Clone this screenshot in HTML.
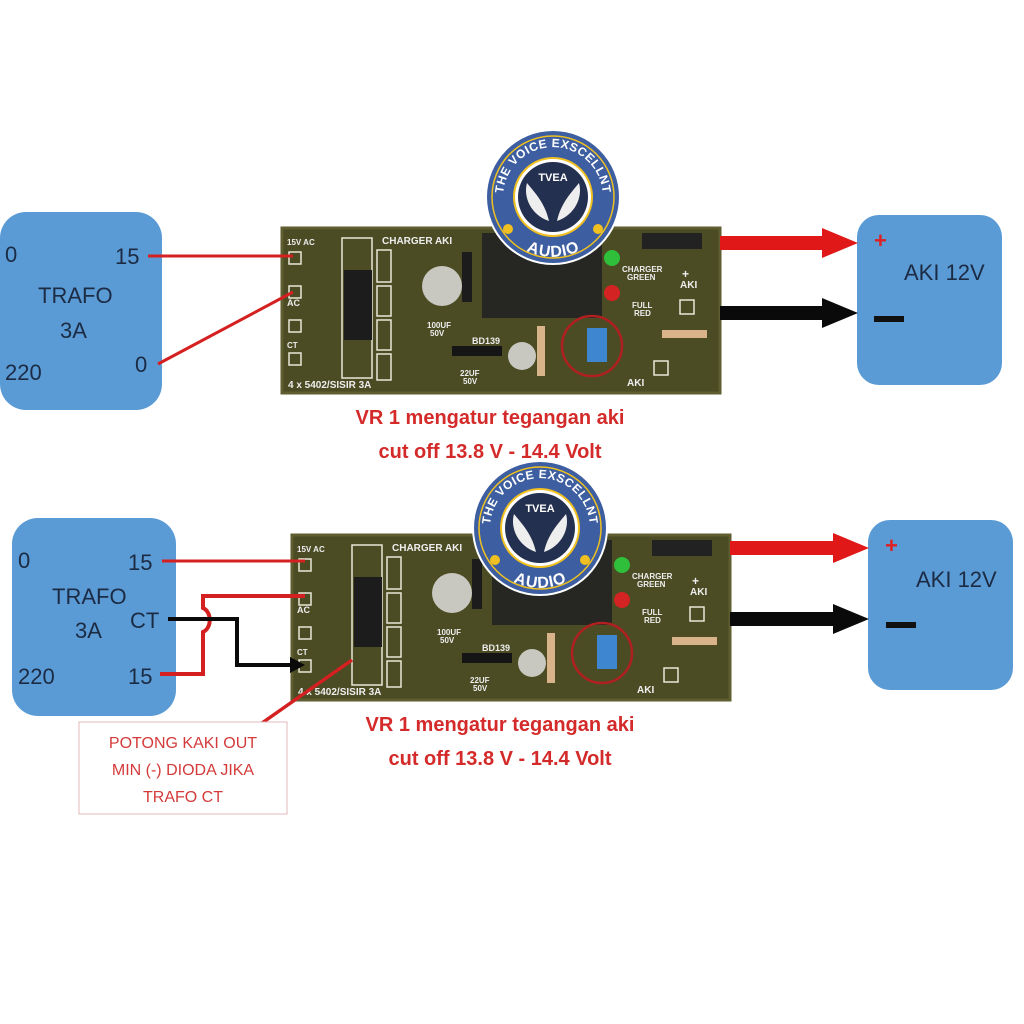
<!DOCTYPE html>
<html><head><meta charset="utf-8"><style>
html,body{margin:0;padding:0;background:#fff;}
svg{display:block;}
text{font-family:"Liberation Sans",sans-serif;}
</style></head><body>
<svg width="1024" height="1024" viewBox="0 0 1024 1024" xmlns="http://www.w3.org/2000/svg">
<defs>
<g id="pcb">
  <rect x="0" y="0" width="438" height="165" fill="#4b4b24"/>
  <rect x="0" y="0" width="438" height="165" fill="none" stroke="#5e5e30" stroke-width="3"/>
  <g fill="none" stroke="#e8e8d8" stroke-width="1.5">
    <rect x="7" y="24" width="12" height="12"/><rect x="7" y="58" width="12" height="12"/>
    <rect x="7" y="92" width="12" height="12"/><rect x="7" y="125" width="12" height="12"/>
    <rect x="60" y="10" width="30" height="140"/>
    <rect x="95" y="22" width="14" height="32"/><rect x="95" y="58" width="14" height="30"/>
    <rect x="95" y="92" width="14" height="30"/><rect x="95" y="126" width="14" height="26"/>
    <rect x="398" y="72" width="14" height="14"/><rect x="372" y="133" width="14" height="14"/>
  </g>
  <text x="5" y="17" font-size="8" fill="#eee" font-weight="bold">15V AC</text>
  <text x="100" y="16" font-size="10" fill="#eee" font-weight="bold">CHARGER AKI</text>
  <text x="5" y="78" font-size="9" fill="#eee" font-weight="bold">AC</text>
  <text x="5" y="120" font-size="8" fill="#eee" font-weight="bold">CT</text>
  <text x="6" y="160" font-size="10" fill="#eee" font-weight="bold">4 x 5402/SISIR 3A</text>
  <text x="145" y="100" font-size="8" fill="#eee" font-weight="bold">100UF</text>
  <text x="148" y="108" font-size="8" fill="#eee" font-weight="bold">50V</text>
  <text x="190" y="116" font-size="9" fill="#eee" font-weight="bold">BD139</text>
  <text x="178" y="148" font-size="8" fill="#eee" font-weight="bold">22UF</text>
  <text x="181" y="156" font-size="8" fill="#eee" font-weight="bold">50V</text>
  <text x="340" y="44" font-size="8" fill="#eee" font-weight="bold">CHARGER</text>
  <text x="345" y="52" font-size="8" fill="#eee" font-weight="bold">GREEN</text>
  <text x="350" y="80" font-size="8" fill="#eee" font-weight="bold">FULL</text>
  <text x="352" y="88" font-size="8" fill="#eee" font-weight="bold">RED</text>
  <text x="398" y="60" font-size="10" fill="#eee" font-weight="bold">AKI</text>
  <text x="400" y="50" font-size="12" fill="#eee" font-weight="bold">+</text>
  <text x="345" y="158" font-size="10" fill="#eee" font-weight="bold">AKI</text>
  <rect x="62" y="42" width="28" height="70" fill="#1c1c1c"/>
  <rect x="200" y="5" width="120" height="85" fill="#262623"/>
  <circle cx="160" cy="58" r="20" fill="#c8c8c0"/>
  <circle cx="240" cy="128" r="14" fill="#c8c8c0"/>
  <rect x="170" y="118" width="50" height="10" fill="#151515"/>
  <rect x="180" y="24" width="10" height="50" fill="#1c1c1c"/>
  <rect x="360" y="5" width="60" height="16" fill="#222"/>
  <circle cx="330" cy="30" r="8" fill="#2fbf3a"/>
  <circle cx="330" cy="65" r="8" fill="#d42323"/>
  <rect x="255" y="98" width="8" height="50" fill="#d9b48a"/>
  <rect x="380" y="102" width="45" height="8" fill="#d9b48a"/>
  <rect x="305" y="100" width="20" height="34" fill="#3f86d0"/>
  <circle cx="310" cy="118" r="30" fill="none" stroke="#b02020" stroke-width="2.5"/>
</g>
<path id="arcTop" d="M -45,22 A 50,50 0 1 1 45,22" fill="none"/>
<path id="arcBot" d="M -40,38 A 56,56 0 0 0 40,38" fill="none"/>
<g id="logo">
  <circle r="68" fill="#fff"/>
  <circle r="66" fill="#3d5ea0"/>
  <circle r="61" fill="none" stroke="#f0c020" stroke-width="1.5"/>
  <circle r="40" fill="#f0c020"/>
  <circle r="38" fill="#fff"/>
  <circle r="35" fill="#24304f"/>
  <path d="M-4,24 C-22,18 -30,0 -26,-14 C-18,-4 -8,6 -4,24Z" fill="#eee"/>
  <path d="M4,24 C22,18 30,0 26,-14 C18,-4 8,6 4,24Z" fill="#eee"/>
  <text x="0" y="-16" font-size="11" font-weight="bold" fill="#fff" text-anchor="middle" font-family="Liberation Serif">TVEA</text>
  <text font-size="12" font-weight="bold" fill="#fff" font-family="Liberation Serif" letter-spacing="0.5"><textPath href="#arcTop" startOffset="50%" text-anchor="middle">THE VOICE EXSCELLNT</textPath></text>
  <text font-size="16" font-weight="bold" fill="#fff" font-family="Liberation Serif" dy="5"><textPath href="#arcBot" startOffset="50%" text-anchor="middle">AUDIO</textPath></text>
  <circle cx="-45" cy="32" r="5" fill="#f0c020"/><circle cx="45" cy="32" r="5" fill="#f0c020"/>
</g>
</defs>

<!-- Top -->
<rect x="0" y="212" width="162" height="198" rx="26" fill="#5b9bd5"/>
<text x="5" y="262" font-size="22" fill="#1c2b44">0</text>
<text x="115" y="264" font-size="22" fill="#1c2b44">15</text>
<text x="38" y="303" font-size="22" fill="#1c2b44">TRAFO</text>
<text x="60" y="338" font-size="22" fill="#1c2b44">3A</text>
<text x="5" y="380" font-size="22" fill="#1c2b44">220</text>
<text x="135" y="372" font-size="22" fill="#1c2b44">0</text>
<use href="#pcb" x="282" y="228"/>
<line x1="148" y1="256" x2="293" y2="256" stroke="#d42020" stroke-width="3"/>
<polyline points="158,364 293,292" fill="none" stroke="#d42020" stroke-width="3"/>
<rect x="857" y="215" width="145" height="170" rx="22" fill="#5b9bd5"/>
<text x="874" y="248" font-size="22" fill="#e02020" font-weight="bold">+</text>
<rect x="874" y="316" width="30" height="6" fill="#111"/>
<text x="904" y="280" font-size="22" fill="#1c2b44">AKI 12V</text>
<rect x="720" y="236" width="105" height="14" fill="#e01818"/>
<polygon points="822,228 858,243 822,258" fill="#e01818"/>
<rect x="720" y="306" width="105" height="14" fill="#0a0a0a"/>
<polygon points="822,298 858,313 822,328" fill="#0a0a0a"/>
<text x="490" y="424" font-size="20" font-weight="bold" fill="#d42a2a" text-anchor="middle">VR 1 mengatur tegangan aki</text>
<text x="490" y="458" font-size="20" font-weight="bold" fill="#d42a2a" text-anchor="middle">cut off 13.8 V - 14.4 Volt</text>
<use href="#logo" x="553" y="197"/>

<!-- Bottom -->
<rect x="12" y="518" width="164" height="198" rx="26" fill="#5b9bd5"/>
<text x="18" y="568" font-size="22" fill="#1c2b44">0</text>
<text x="128" y="570" font-size="22" fill="#1c2b44">15</text>
<text x="52" y="604" font-size="22" fill="#1c2b44">TRAFO</text>
<text x="75" y="638" font-size="22" fill="#1c2b44">3A</text>
<text x="130" y="628" font-size="22" fill="#1c2b44">CT</text>
<text x="18" y="684" font-size="22" fill="#1c2b44">220</text>
<text x="128" y="684" font-size="22" fill="#1c2b44">15</text>
<use href="#pcb" x="292" y="535"/>
<line x1="162" y1="561" x2="305" y2="561" stroke="#d42020" stroke-width="3"/>
<path d="M160,674 L203,674 L203,632 C212,628 212,612 203,608 L203,596 L305,596" fill="none" stroke="#d42020" stroke-width="4"/>
<polyline points="168,619 237,619 237,665 292,665" fill="none" stroke="#0a0a0a" stroke-width="4"/>
<polygon points="290,657 305,665 290,673" fill="#0a0a0a"/>
<line x1="262" y1="723" x2="352" y2="660" stroke="#d42020" stroke-width="3.5"/>
<rect x="79" y="722" width="208" height="92" fill="#fff" stroke="#e0b8b8" stroke-width="1"/>
<text x="183" y="748" font-size="16" fill="#d43a3a" text-anchor="middle">POTONG KAKI OUT</text>
<text x="183" y="775" font-size="16" fill="#d43a3a" text-anchor="middle">MIN (-) DIODA JIKA</text>
<text x="183" y="802" font-size="16" fill="#d43a3a" text-anchor="middle">TRAFO CT</text>
<rect x="868" y="520" width="145" height="170" rx="22" fill="#5b9bd5"/>
<text x="885" y="553" font-size="22" fill="#e02020" font-weight="bold">+</text>
<rect x="886" y="622" width="30" height="6" fill="#111"/>
<text x="916" y="587" font-size="22" fill="#1c2b44">AKI 12V</text>
<rect x="730" y="541" width="106" height="14" fill="#e01818"/>
<polygon points="833,533 869,548 833,563" fill="#e01818"/>
<rect x="730" y="612" width="106" height="14" fill="#0a0a0a"/>
<polygon points="833,604 869,619 833,634" fill="#0a0a0a"/>
<text x="500" y="731" font-size="20" font-weight="bold" fill="#d42a2a" text-anchor="middle">VR 1 mengatur tegangan aki</text>
<text x="500" y="765" font-size="20" font-weight="bold" fill="#d42a2a" text-anchor="middle">cut off 13.8 V - 14.4 Volt</text>
<use href="#logo" x="540" y="528"/>
</svg>
</body></html>
